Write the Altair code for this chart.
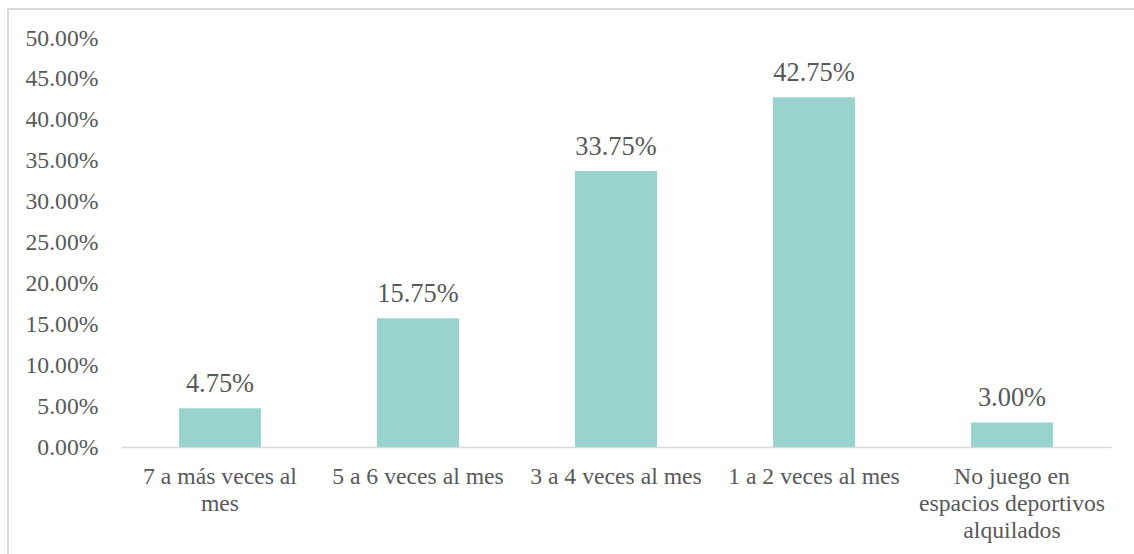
import altair as alt
import pandas as pd

categories = [
    "7 a más veces al mes",
    "5 a 6 veces al mes",
    "3 a 4 veces al mes",
    "1 a 2 veces al mes",
    "No juego en espacios deportivos alquilados",
]
values = [4.75, 15.75, 33.75, 42.75, 3.00]
y_ticks = [0, 5, 10, 15, 20, 25, 30, 35, 40, 45, 50]

df = pd.DataFrame({"cat": categories, "val": values})

FONT = "Liberation Serif"
TXT = "#595959"
BAR = "#98D3CD"
LINE = "#D9D9D9"

label_expr = (
    "datum.value == '7 a más veces al mes' ? ['7 a más veces al', 'mes'] : "
    "datum.value == 'No juego en espacios deportivos alquilados' ? "
    "['No juego en', 'espacios deportivos', 'alquilados'] : datum.value"
)

x_enc = alt.X(
    "cat:N",
    sort=categories,
    scale=alt.Scale(paddingInner=0.585, paddingOuter=0.2925),
    axis=alt.Axis(
        title=None,
        labelAngle=0,
        labelExpr=label_expr,
        labelFont=FONT,
        labelFontSize=23.7,
        labelColor=TXT,
        labelBaseline="alphabetic",
        labelPadding=36,
        labelLineHeight=27,
        labelLimit=400,
        ticks=False,
        tickSize=0,
        domainColor=LINE,
        domainWidth=1.5,
        grid=False,
    ),
)
y_enc = alt.Y(
    "val:Q",
    scale=alt.Scale(domain=[0, 50], nice=False),
    axis=alt.Axis(
        title=None,
        values=y_ticks,
        labelExpr="format(datum.value, '.2f') + '%'",
        labelFont=FONT,
        labelFontSize=23.7,
        labelColor=TXT,
        labelPadding=23,
        ticks=False,
        domain=False,
        grid=False,
    ),
)

bars = alt.Chart(df).mark_bar(color=BAR).encode(x=x_enc, y=y_enc)

labels = alt.Chart(df).mark_text(
    font=FONT, fontSize=26.4, color=TXT, baseline="alphabetic", dy=-16
).encode(
    x=alt.X("cat:N", sort=categories),
    y="val:Q",
    text=alt.Text("label:N"),
).transform_calculate(label="format(datum.val, '.2f') + '%'")

border = alt.Chart(pd.DataFrame({"a": [0]})).mark_rect(
    fill=None, stroke=LINE, strokeWidth=2
).encode(
    x=alt.value(-113), x2=alt.value(1300), y=alt.value(-29), y2=alt.value(700)
)

chart = (
    alt.layer(bars, labels, border)
    .properties(
        width=990,
        height=409,
        autosize=alt.AutoSizeParams(type="none"),
        padding={"left": 121, "top": 38, "right": 23, "bottom": 107},
        background="white",
    )
    .configure_view(strokeWidth=0)
    .configure_axis(labelFont=FONT)
    .configure_text(font=FONT)
)

chart.save("out.html", embed_options={"renderer": "svg", "actions": False})
